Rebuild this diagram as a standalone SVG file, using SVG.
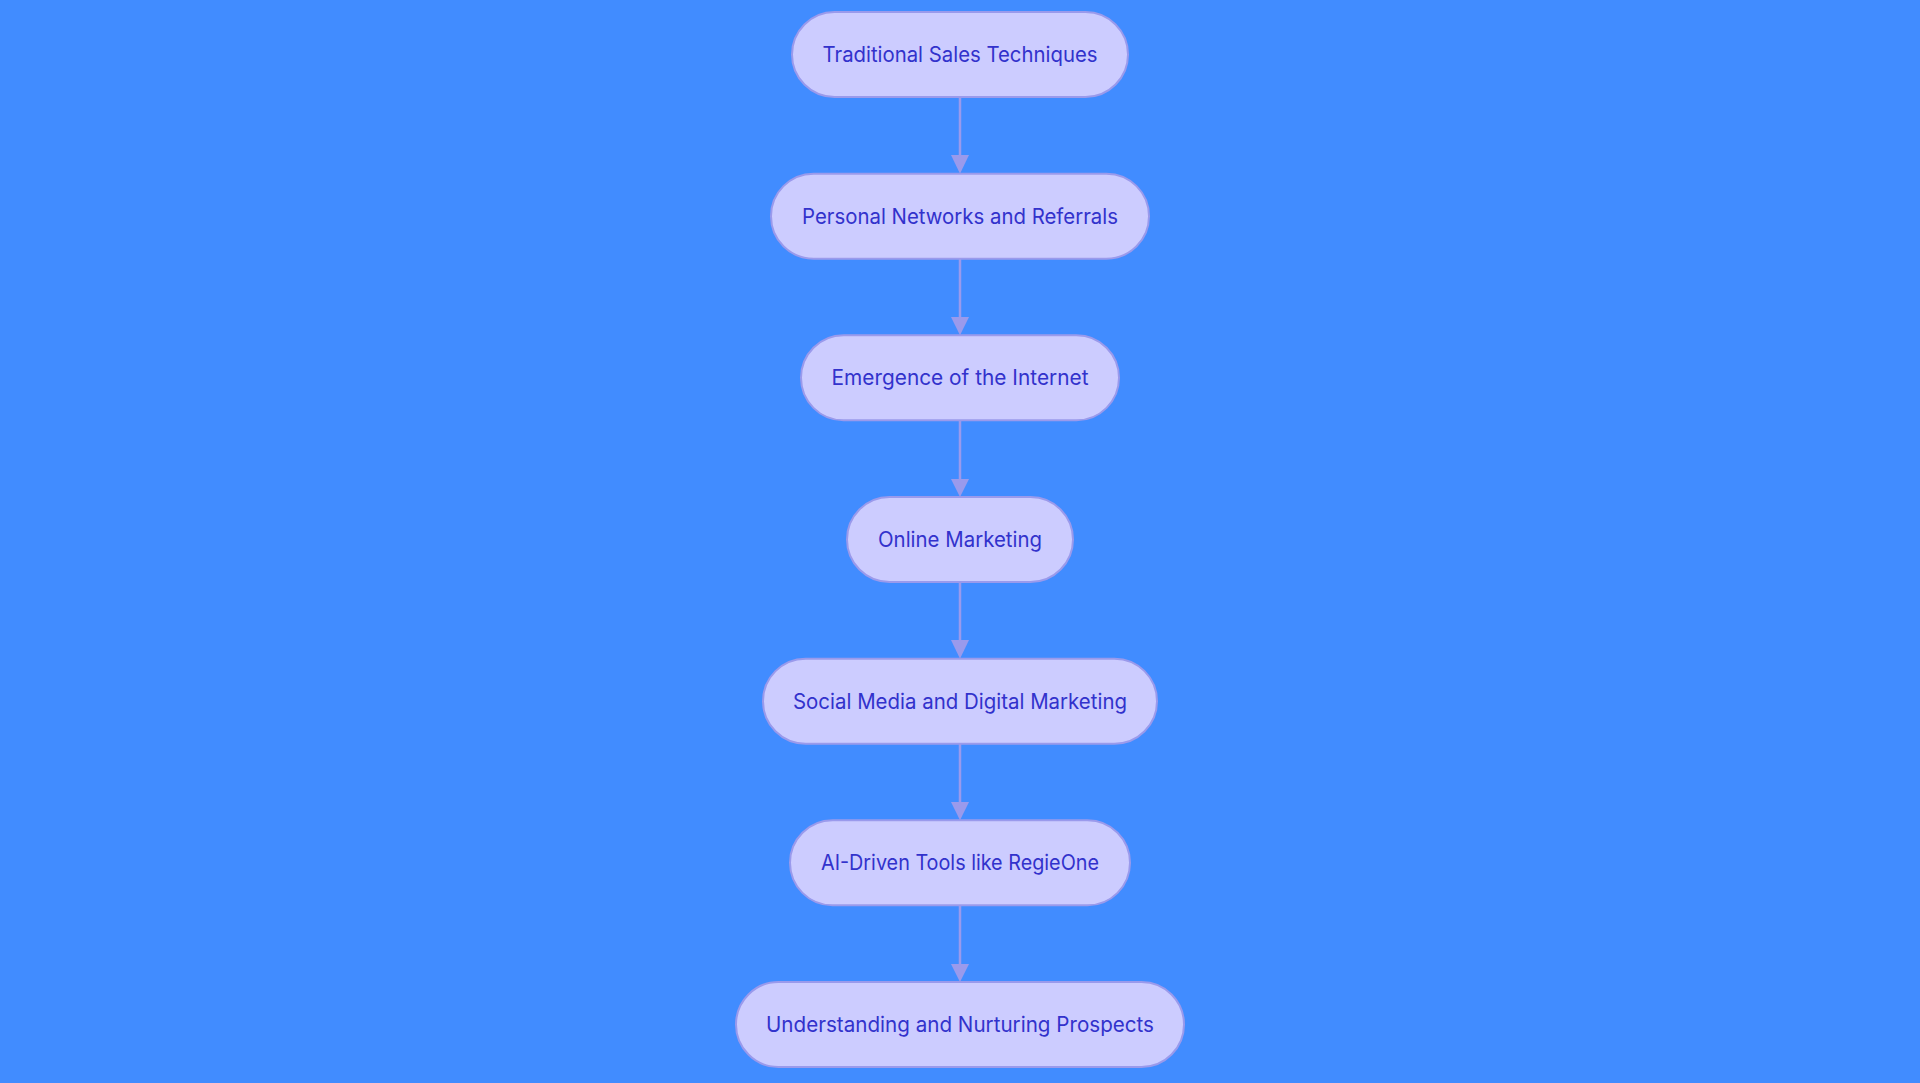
<svg xmlns="http://www.w3.org/2000/svg" width="1920" height="1083" viewBox="0 0 1920 1083">
  <style>
    .node rect { fill: #CCCCFF; stroke: #9A9AEC; stroke-width: 2; }
    .node text { fill: #3232CC; font-family: Inter, "Noto Sans", "Liberation Sans", sans-serif; font-size: 21px; font-weight: 400; text-anchor: middle; }
    .edge { stroke: #9A9AEC; stroke-width: 2.5; fill: none; }
    .head { fill: #9A9AEC; }
  </style>
  <rect x="0" y="0" width="1920" height="1083" fill="#418CFF"/>
  <g id="connectors">
    <line class="edge" x1="960" y1="97" x2="960" y2="156"/>
    <polygon class="head" points="951,155 969,155 960,173.7"/>
    <line class="edge" x1="960" y1="258.7" x2="960" y2="318"/>
    <polygon class="head" points="951,317 969,317 960,335.3"/>
    <line class="edge" x1="960" y1="420.3" x2="960" y2="480"/>
    <polygon class="head" points="951,479 969,479 960,497"/>
    <line class="edge" x1="960" y1="582" x2="960" y2="641"/>
    <polygon class="head" points="951,640 969,640 960,658.7"/>
    <line class="edge" x1="960" y1="743.7" x2="960" y2="803"/>
    <polygon class="head" points="951,802 969,802 960,820.3"/>
    <line class="edge" x1="960" y1="905.3" x2="960" y2="965"/>
    <polygon class="head" points="951,964 969,964 960,982"/>
  </g>
  <g id="node1" class="node">
    <rect x="792" y="12" width="336" height="85" rx="42.5" ry="42.5"/>
    <text x="960" y="62" textLength="275" lengthAdjust="spacingAndGlyphs">Traditional Sales Techniques</text>
  </g>
  <g id="node2" class="node">
    <rect x="771" y="173.7" width="378" height="85" rx="42.5" ry="42.5"/>
    <text x="960" y="223.7" textLength="316" lengthAdjust="spacingAndGlyphs">Personal Networks and Referrals</text>
  </g>
  <g id="node3" class="node">
    <rect x="801" y="335.3" width="318" height="85" rx="42.5" ry="42.5"/>
    <text x="960" y="385.3" textLength="257" lengthAdjust="spacingAndGlyphs">Emergence of the Internet</text>
  </g>
  <g id="node4" class="node">
    <rect x="847" y="497" width="226" height="85" rx="42.5" ry="42.5"/>
    <text x="960" y="547" textLength="164" lengthAdjust="spacingAndGlyphs">Online Marketing</text>
  </g>
  <g id="node5" class="node">
    <rect x="763" y="658.7" width="394" height="85" rx="42.5" ry="42.5"/>
    <text x="960" y="708.7" textLength="334" lengthAdjust="spacingAndGlyphs">Social Media and Digital Marketing</text>
  </g>
  <g id="node6" class="node">
    <rect x="790" y="820.3" width="340" height="85" rx="42.5" ry="42.5"/>
    <text x="960" y="870.3" textLength="278" lengthAdjust="spacingAndGlyphs">AI-Driven Tools like RegieOne</text>
  </g>
  <g id="node7" class="node">
    <rect x="736" y="982" width="448" height="85" rx="42.5" ry="42.5"/>
    <text x="960" y="1032" textLength="388" lengthAdjust="spacingAndGlyphs">Understanding and Nurturing Prospects</text>
  </g>
</svg>
